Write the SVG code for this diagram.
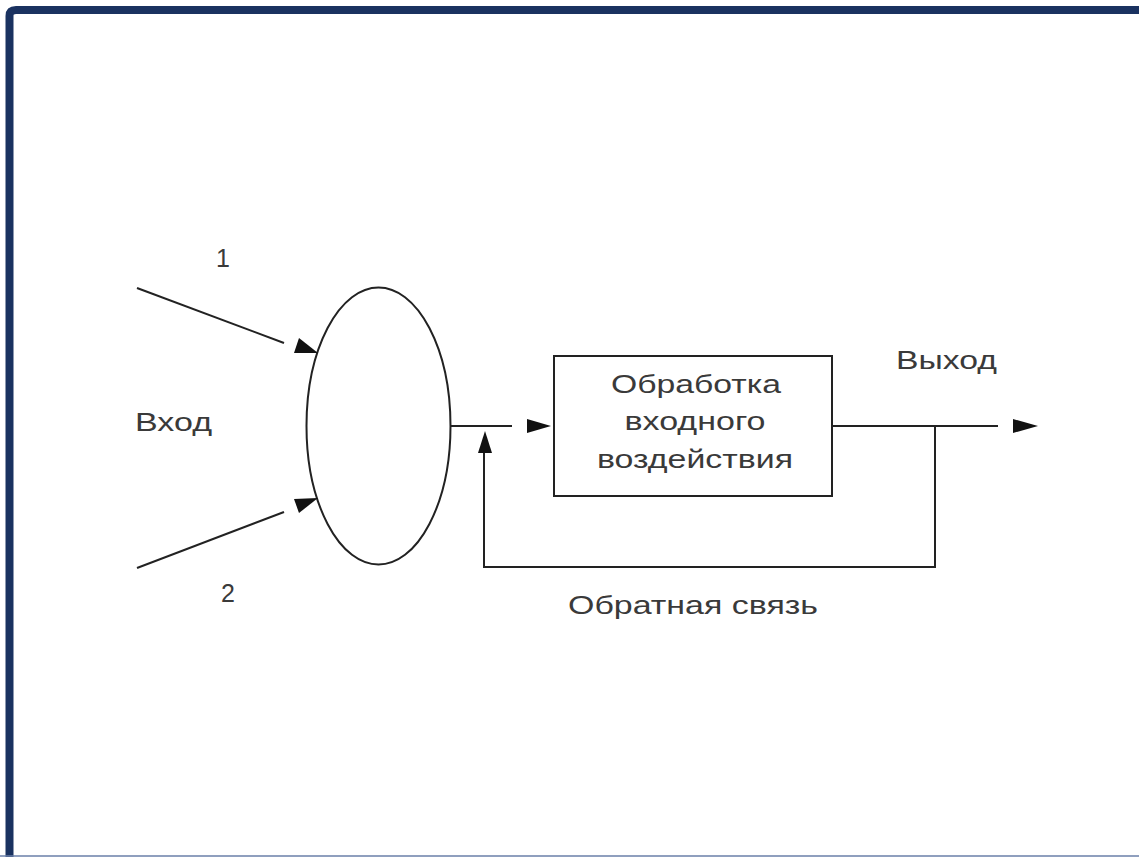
<svg xmlns="http://www.w3.org/2000/svg" width="1139" height="857" viewBox="0 0 1139 857">
<style>
.ln{stroke:#222;stroke-width:2;fill:none}
.ah{fill:#111;stroke:none}
.tx{font-family:"Liberation Sans",Arial,sans-serif;font-size:25px;fill:#3a3a3a}
</style>
<rect x="0" y="0" width="1139" height="857" fill="#fff"/>
<path d="M9.5,860 V16 Q9.5,10 16,10 H1145" fill="none" stroke="#1a3260" stroke-width="8"/>
<line x1="0" y1="856" x2="1139" y2="856" stroke="#6a7fa8" stroke-width="1.5"/>
<g id="node-sum">
<ellipse cx="378.5" cy="426" rx="72" ry="138.5" class="ln"/>
</g>
<g id="node-process">
<rect x="554" y="356" width="278" height="140" class="ln"/>
<text class="tx" x="696" y="393" text-anchor="middle" textLength="170" lengthAdjust="spacingAndGlyphs">Обработка</text>
<text class="tx" x="695" y="430" text-anchor="middle" textLength="141" lengthAdjust="spacingAndGlyphs">входного</text>
<text class="tx" x="695" y="468" text-anchor="middle" textLength="196" lengthAdjust="spacingAndGlyphs">воздействия</text>
</g>
<g id="labels">
<text class="tx" x="223" y="267" text-anchor="middle">1</text>
<text class="tx" x="228" y="602" text-anchor="middle">2</text>
<text class="tx" x="135" y="431" textLength="77" lengthAdjust="spacingAndGlyphs">Вход</text>
<text class="tx" x="896" y="369" textLength="101" lengthAdjust="spacingAndGlyphs">Выход</text>
<text class="tx" x="568" y="614" textLength="250" lengthAdjust="spacingAndGlyphs">Обратная связь</text>
</g>
<g id="connectors">
<line x1="137" y1="288" x2="284" y2="343" class="ln"/>
<polygon points="299,338 294,353 318,353" class="ah"/>
<line x1="137" y1="568" x2="284" y2="512" class="ln"/>
<polygon points="294,499 299,513 318,498" class="ah"/>
<line x1="451" y1="426" x2="512" y2="426" class="ln"/>
<polygon points="527,419 551,426 527,433" class="ah"/>
<line x1="832" y1="426" x2="998" y2="426" class="ln"/>
<polygon points="1013,419 1038,426 1013,433" class="ah"/>
<polyline points="935,426 935,567 484,567 484,453" class="ln"/>
<polygon points="478,453 485,431 492,453" class="ah"/>
</g>
</svg>
